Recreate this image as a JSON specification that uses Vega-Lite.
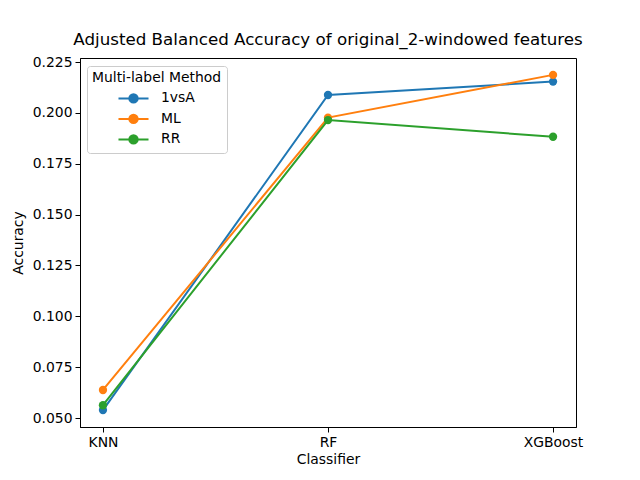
{
  "$schema": "https://vega.github.io/schema/vega-lite/v6.json",
  "autosize": "none",
  "width": 496,
  "height": 369,
  "padding": {"left": 80, "top": 58, "right": 64, "bottom": 53},
  "background": "white",
  "config": {
    "font": "DejaVu Sans",
    "view": {"stroke": "black", "strokeWidth": 1}
  },
  "title": {
    "text": "Adjusted Balanced Accuracy of original_2-windowed features",
    "fontSize": 16.7,
    "fontWeight": "normal",
    "font": "DejaVu Sans",
    "color": "black",
    "offset": 6
  },
  "data": {
    "values": [
      {"Classifier": "KNN", "Method": "1vsA", "Accuracy": 0.0539},
      {"Classifier": "RF", "Method": "1vsA", "Accuracy": 0.2088},
      {"Classifier": "XGBoost", "Method": "1vsA", "Accuracy": 0.2154},
      {"Classifier": "KNN", "Method": "ML", "Accuracy": 0.0638},
      {"Classifier": "RF", "Method": "ML", "Accuracy": 0.1977},
      {"Classifier": "XGBoost", "Method": "ML", "Accuracy": 0.2187},
      {"Classifier": "KNN", "Method": "RR", "Accuracy": 0.0563},
      {"Classifier": "RF", "Method": "RR", "Accuracy": 0.1965},
      {"Classifier": "XGBoost", "Method": "RR", "Accuracy": 0.1883}
    ]
  },
  "encoding": {
    "x": {
      "field": "Classifier",
      "type": "ordinal",
      "scale": {"type": "point", "padding": 0.102},
      "axis": {
        "title": "Classifier",
        "labelAngle": 0,
        "labelFontSize": 13.9,
        "titleFontSize": 13.9,
        "titleFontWeight": "normal",
        "labelColor": "black",
        "titleColor": "black",
        "domainColor": "black",
        "tickColor": "black",
        "tickSize": 5,
        "labelPadding": 3,
        "titlePadding": 4,
        "grid": false
      }
    },
    "y": {
      "field": "Accuracy",
      "type": "quantitative",
      "scale": {"domain": [0.0456, 0.227], "nice": false, "zero": false},
      "axis": {
        "title": "Accuracy",
        "values": [0.05, 0.075, 0.1, 0.125, 0.15, 0.175, 0.2, 0.225],
        "format": ".3f",
        "labelFontSize": 13.9,
        "titleFontSize": 13.9,
        "titleFontWeight": "normal",
        "labelColor": "black",
        "titleColor": "black",
        "domainColor": "black",
        "tickColor": "black",
        "tickSize": 5,
        "labelPadding": 3,
        "titlePadding": 7,
        "grid": false
      }
    },
    "color": {
      "field": "Method",
      "type": "nominal",
      "scale": {"domain": ["1vsA", "ML", "RR"], "range": ["#1f77b4", "#ff7f0e", "#2ca02c"]},
      "legend": {
        "title": "Multi-label Method",
        "orient": "none",
        "legendX": 7,
        "legendY": 8,
        "titleFontSize": 13.9,
        "titleFontWeight": "normal",
        "titleColor": "black",
        "labelFontSize": 13.9,
        "labelColor": "black",
        "padding": 5,
        "strokeColor": "#cccccc",
        "fillColor": "white",
        "cornerRadius": 3,
        "rowPadding": 0.5,
        "symbolType": "M-1.43,0H1.43M-0.4,0a0.4,0.4 0 1,0 0.8,0a0.4,0.4 0 1,0 -0.8,0",
        "symbolSize": 441,
        "symbolStrokeWidth": 2,
        "symbolOffset": 30,
        "titlePadding": 2,
        "labelOffset": 16,
        "encode": {
          "symbols": {
            "update": {
              "fill": {"scale": "color", "field": "value"},
              "stroke": {"scale": "color", "field": "value"},
              "opacity": {"value": 1}
            }
          }
        }
      }
    }
  },
  "layer": [
    {"mark": {"type": "line", "strokeWidth": 2}},
    {"mark": {"type": "circle", "size": 69, "opacity": 1}}
  ]
}
